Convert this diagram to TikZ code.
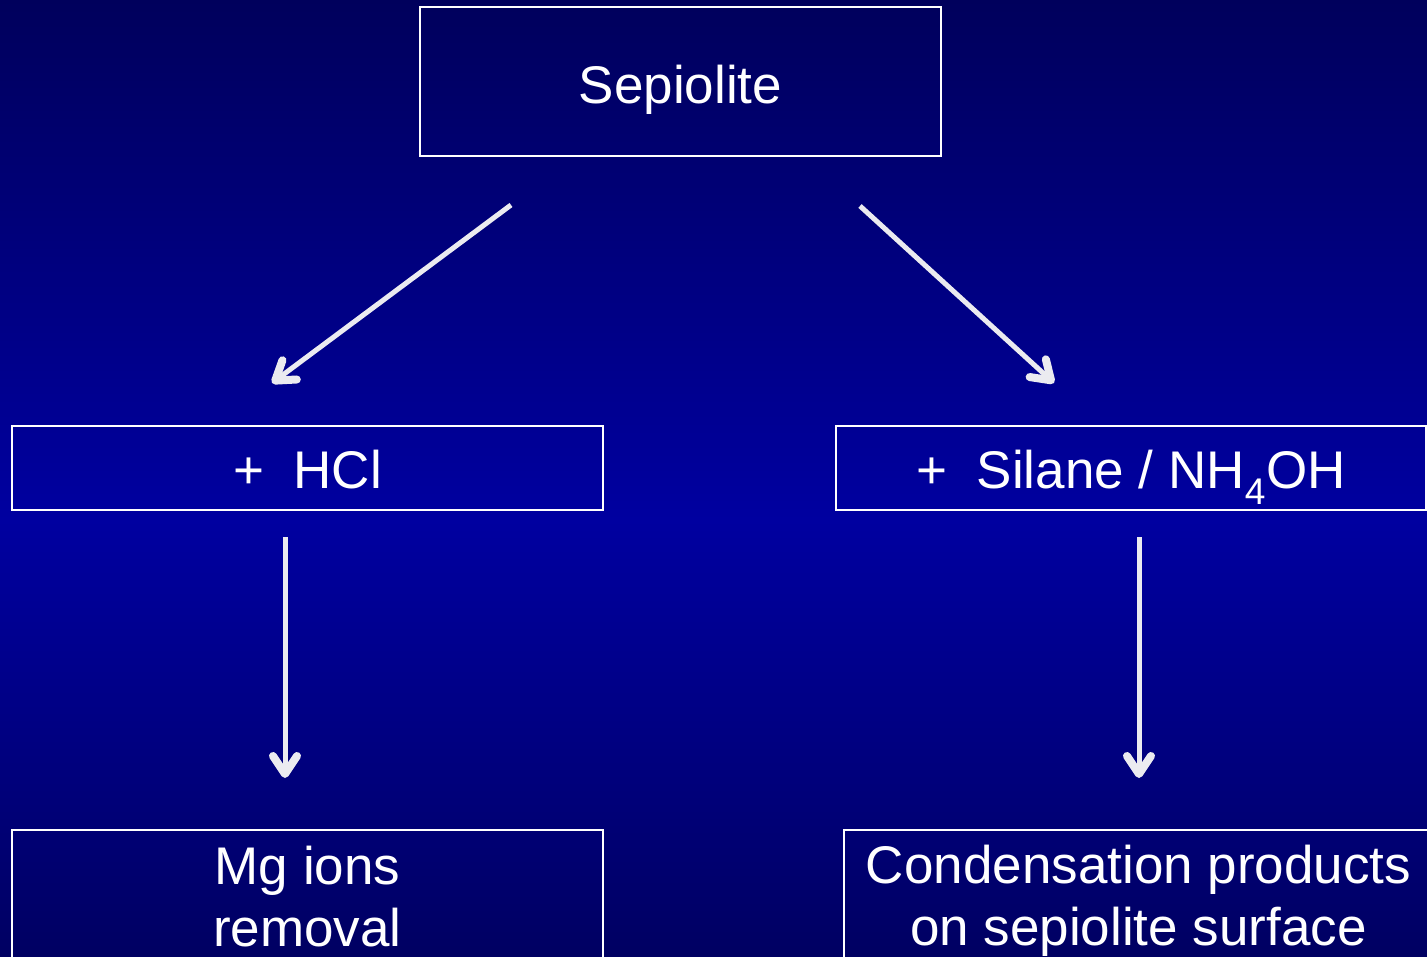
\documentclass[tikz,border=0pt]{standalone}
\usepackage{fontspec}
\setmainfont{Liberation Sans}
\usetikzlibrary{arrows.meta}
\definecolor{bgtop}{RGB}{0,0,92}
\definecolor{bgmid}{RGB}{0,0,160}
\definecolor{bgbot}{RGB}{0,0,98}
\definecolor{arrcol}{RGB}{235,235,240}
\tikzset{
  x=1pt,y=1pt,
  box/.style={draw=white, line width=2.4pt, text=white, inner sep=0pt,
    font=\fontsize{53}{62}\selectfont, align=center},
  arr/.style={draw=arrcol, line width=5pt,
    -{Straight Barb[length=18pt 0,width=24pt 0,round,line width=8pt 0]}}
}
\begin{document}
\begin{tikzpicture}
\useasboundingbox (0,0) rectangle (1427,-956);
\clip (0,0) rectangle (1427,-956);
\shade[top color=bgtop, bottom color=bgmid] (0,0) rectangle (1427,-520);
\shade[top color=bgmid, bottom color=bgbot] (0,-520) rectangle (1427,-956);

\node[box, minimum width=521pt, minimum height=149pt, text height=43pt, text depth=0pt] (sep) at (680.5,-81.5) {Sepiolite};
\node[box, minimum width=591pt, minimum height=84pt, text height=40pt, text depth=0pt] (hcl) at (307.5,-468) {+\ \ HCl};
\node[box, minimum width=590pt, minimum height=84pt, text height=40pt, text depth=0pt] (sil) at (1131,-468) {+\ \ Silane / NH\textsubscript{4}OH};
\node[box, minimum width=591pt, minimum height=134pt] (mg) at (307.5,-897) {Mg ions\\removal};
\node[box, minimum width=589pt, minimum height=142pt] (cond) at (1138.5,-901) {Condensation products\\on sepiolite surface};

\coordinate (a1s) at (511,-205);
\coordinate (a1e) at (272,-383);
\coordinate (a2s) at (860,-206);
\coordinate (a2e) at (1054,-383);
\coordinate (a3s) at (285,-537);
\coordinate (a3e) at (285,-778);
\coordinate (a4s) at (1139,-537);
\coordinate (a4e) at (1139,-778);

\draw[arr] (a1s) -- (a1e);
\draw[arr] (a2s) -- (a2e);
\draw[arr] (a3s) -- (a3e);
\draw[arr] (a4s) -- (a4e);
\end{tikzpicture}
\end{document}
